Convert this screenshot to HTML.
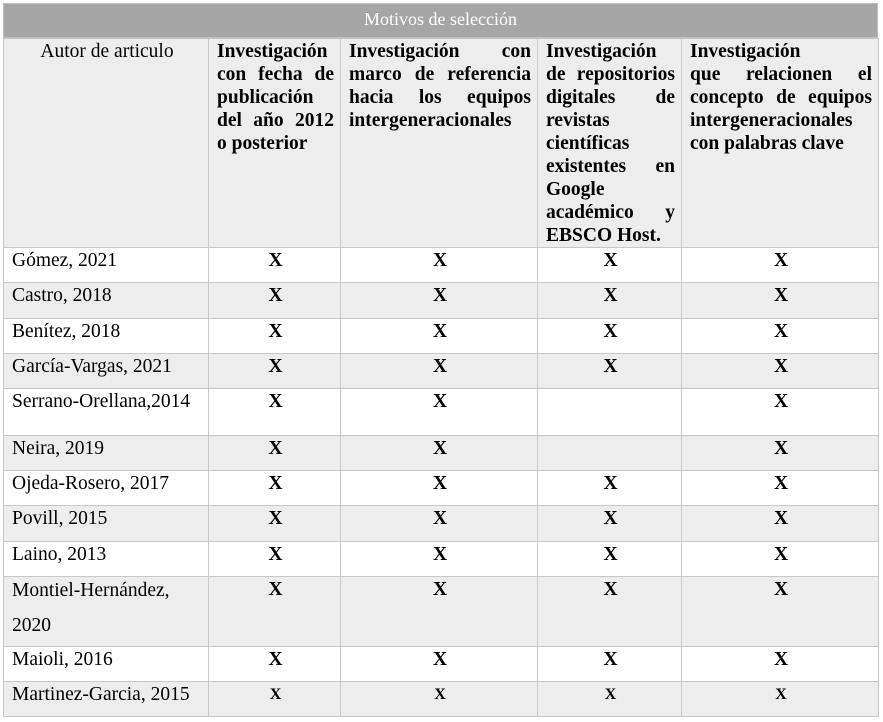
<!DOCTYPE html>
<html><head><meta charset="utf-8"><style>
body{margin:0;background:#fff;}
.wrap{position:absolute;left:3px;top:3px;width:875px;}
.bar{height:35px;background:#a6a6a6;color:#fff;font:18px/30px "Liberation Serif",serif;text-align:center;border:1px solid #bfbfbf;box-sizing:border-box;}
table{border-collapse:collapse;table-layout:fixed;width:875px;font-family:"Liberation Serif",serif;font-size:19.5px;line-height:23px;color:#000;}
td{border:1px solid #c8c8c8;padding:1px 6px 0 8px;vertical-align:top;overflow:hidden;}
tr.g td{background:#ededed;}
.h td{text-align:justify;text-align-last:left;font-weight:bold;padding-top:1px;}
.h td.c{font-weight:normal;text-align:center;text-align-last:center;}
td.x{text-align:center;font-weight:bold;padding-top:1px;}
.s td.x{font-size:16px;}
.m{margin-top:-5px;line-height:35px;}
</style></head><body>
<div class="wrap">
<div class="bar">Motivos de selección</div>
<table>
<colgroup><col style="width:205px"><col style="width:132px"><col style="width:197px"><col style="width:144px"><col style="width:197px"></colgroup>
<tr class="g h" style="height:207px"><td class="c">Autor de articulo</td><td>Investigación con fecha de publicación del año 2012 o posterior</td><td>Investigación con marco de referencia hacia los equipos intergeneracionales</td><td>Investigación de repositorios digitales de revistas científicas existentes en Google académico y EBSCO Host.</td><td><span style="display:block;text-align:left">Investigación</span>que relacionen el concepto de equipos intergeneracionales con palabras clave</td></tr>
<tr style="height:35px"><td>Gómez, 2021</td><td class="x">X</td><td class="x">X</td><td class="x">X</td><td class="x">X</td></tr>
<tr class="g" style="height:36px"><td>Castro, 2018</td><td class="x">X</td><td class="x">X</td><td class="x">X</td><td class="x">X</td></tr>
<tr style="height:35px"><td>Benítez, 2018</td><td class="x">X</td><td class="x">X</td><td class="x">X</td><td class="x">X</td></tr>
<tr class="g" style="height:35px"><td>García-Vargas, 2021</td><td class="x">X</td><td class="x">X</td><td class="x">X</td><td class="x">X</td></tr>
<tr style="height:47px"><td>Serrano-Orellana,2014</td><td class="x">X</td><td class="x">X</td><td class="x"></td><td class="x">X</td></tr>
<tr class="g" style="height:35px"><td>Neira, 2019</td><td class="x">X</td><td class="x">X</td><td class="x"></td><td class="x">X</td></tr>
<tr style="height:35px"><td>Ojeda-Rosero, 2017</td><td class="x">X</td><td class="x">X</td><td class="x">X</td><td class="x">X</td></tr>
<tr class="g" style="height:36px"><td>Povill, 2015</td><td class="x">X</td><td class="x">X</td><td class="x">X</td><td class="x">X</td></tr>
<tr style="height:35px"><td>Laino, 2013</td><td class="x">X</td><td class="x">X</td><td class="x">X</td><td class="x">X</td></tr>
<tr class="g" style="height:70px"><td><div class="m">Montiel-Hernández, 2020</div></td><td class="x">X</td><td class="x">X</td><td class="x">X</td><td class="x">X</td></tr>
<tr style="height:35px"><td>Maioli, 2016</td><td class="x">X</td><td class="x">X</td><td class="x">X</td><td class="x">X</td></tr>
<tr class="g s" style="height:35px"><td>Martinez-Garcia, 2015</td><td class="x">X</td><td class="x">X</td><td class="x">X</td><td class="x">X</td></tr>
</table>
</div>
</body></html>
